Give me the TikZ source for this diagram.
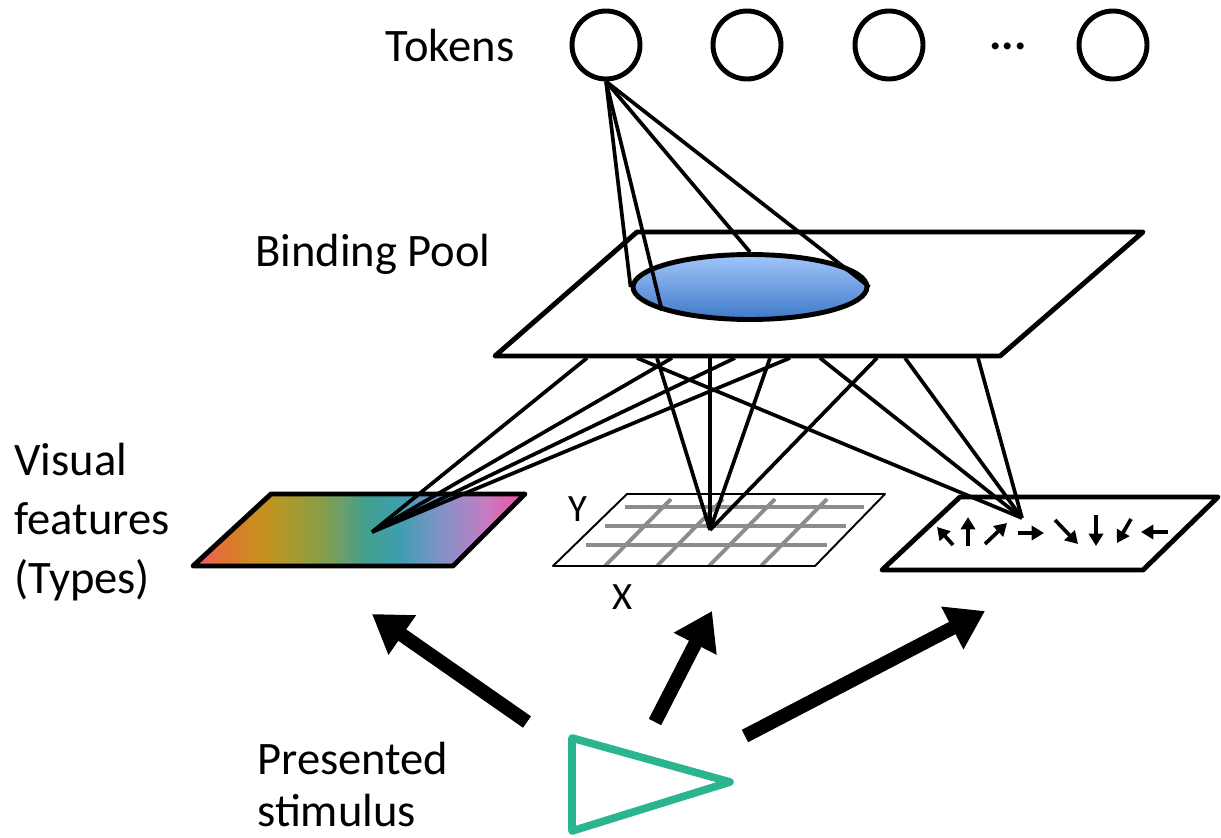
\documentclass[tikz,border=0pt]{standalone}
\usepackage{fontspec}
\setmainfont{Carlito}
\usetikzlibrary{arrows.meta,shapes.geometric}
\definecolor{stimgreen}{HTML}{2BB58F}
\definecolor{ellTop}{HTML}{A2C6FA}
\definecolor{ellBot}{HTML}{3E79C9}
\definecolor{gridgray}{HTML}{8C8C8C}
\definecolor{rc0}{HTML}{F2596A}
\definecolor{rc1}{HTML}{E0752F}
\definecolor{rc2}{HTML}{C8901E}
\definecolor{rc3}{HTML}{A89A2E}
\definecolor{rc4}{HTML}{849E50}
\definecolor{rc5}{HTML}{42A08E}
\definecolor{rc6}{HTML}{3E9EB0}
\definecolor{rc7}{HTML}{7E93C8}
\definecolor{rc8}{HTML}{C47CC2}
\definecolor{rc9}{HTML}{F0509E}
\pgfdeclarehorizontalshading{rainbow}{100bp}{color(0bp)=(rc0); color(25bp)=(rc0); color(30bp)=(rc1); color(35bp)=(rc2); color(40bp)=(rc3); color(45bp)=(rc4); color(51bp)=(rc5); color(56bp)=(rc6); color(62bp)=(rc7); color(69bp)=(rc8); color(75bp)=(rc9); color(100bp)=(rc9)}
\begin{document}
\begin{tikzpicture}[x=0.02cm,y=-0.02cm,
  txt/.style={font=\fontsize{26.5}{33}\selectfont, inner sep=0pt},
  token/.style={draw, circle, line width=2.8pt, minimum size=1.36cm, inner sep=0pt},
  thickedge/.style={draw, line width=2.8pt, line join=round},
  conn/.style={line width=2.1pt},
  smallarrow/.style={line width=2.1pt, -{Triangle[length=7pt,width=8pt]}},
  bigarrow/.style={line width=7.9pt, -{Triangle[length=21pt,width=26pt]}},
  gridline/.style={gridgray, line width=2.2pt}
]
\useasboundingbox (0,0) rectangle (1221,838);

% texts
\node[txt] (tokLabel) at (450,46) {Tokens};
\node[txt] (poolLabel) at (373,254) {Binding Pool};
\node[txt, anchor=west, align=left, font=\fontsize{26.5}{33.5}\selectfont] (visLabel) at (14,522) {Visual\\features\\(Types)};
\node[txt, anchor=north west, align=left, font=\fontsize{26.5}{29.5}\selectfont] (stimLabel) at (257,742) {Presented\\stimulus};

% tokens
\node[token] (t1) at (606,45) {};
\node[token] (t2) at (747,45) {};
\node[token] (t3) at (889,45) {};
\node[txt, font=\bfseries\fontsize{26.5}{33}\selectfont] (dots) at (1008,46) {...};
\node[token] (t4) at (1113,45) {};

% binding pool
\coordinate (pTL) at (637,232);
\coordinate (pTR) at (1143,232);
\coordinate (pBR) at (1000,356);
\coordinate (pBL) at (495,356);
\path[thickedge, fill=white] (pTL) -- (pTR) -- (pBR) -- (pBL) -- cycle;

% ellipse
\node[draw, ellipse, line width=2.8pt, minimum width=4.68cm, minimum height=1.3cm,
      top color=ellTop, bottom color=ellBot, inner sep=0pt] (ell) at (750,287) {};

% cone lines
\draw[conn] (t1.south) -- (ell.west);
\draw[conn] (t1.south) -- (ell.195);
\draw[conn] (t1.south) -- (ell.north);
\draw[conn] (t1.south) -- (ell.east);

% left map (colour)
\coordinate (lTL) at (271,494);
\coordinate (lTR) at (525,494);
\coordinate (lBR) at (453,566);
\coordinate (lBL) at (193,566);
\path[shading=rainbow, shading angle=0] (lTL) -- (lTR) -- (lBR) -- (lBL) -- cycle;
\path[thickedge] (lTL) -- (lTR) -- (lBR) -- (lBL) -- cycle;

% grid map
\coordinate (gTL) at (627,494);
\coordinate (gTR) at (885,494);
\coordinate (gBR) at (815,566);
\coordinate (gBL) at (553,566);
\foreach \yy in {507,526,545} {
  \draw[gridline] ({553+74*(566-\yy)/72+11},\yy) -- ({815+70*(566-\yy)/72-8},\yy);
}
\foreach \xx in {605,657,709,761} {
  \draw[gridline] (\xx,566) -- (\xx+66,499);
}
\draw[line width=1.1pt, line join=round] (gTL) -- (gTR) -- (gBR) -- (gBL) -- cycle;
\node[txt] (yLabel) at (578,509) {\fontsize{22}{26}\selectfont Y};
\node[txt] (xLabel) at (623,597) {\fontsize{22}{26}\selectfont X};

% motion map
\coordinate (mTL) at (960,497);
\coordinate (mTR) at (1218,497);
\coordinate (mBR) at (1143,570);
\coordinate (mBL) at (882,570);
\path[thickedge, fill=white] (mTL) -- (mTR) -- (mBR) -- (mBL) -- cycle;
\draw[smallarrow] (953,545) -- (937,527);
\draw[smallarrow] (968,546) -- (968,517);
\draw[smallarrow] (985,544) -- (1007,523);
\draw[smallarrow] (1018,533) -- (1044,533);
\draw[smallarrow] (1055,520) -- (1078,544);
\draw[smallarrow] (1096,515) -- (1096,546);
\draw[smallarrow] (1131,519) -- (1117,543);
\draw[smallarrow] (1168,532) -- (1141,532);

% convergence points
\coordinate (L) at (372,532);
\coordinate (G) at (710,530);
\coordinate (R) at (1022,518);

% pool bottom attachment points
\coordinate (b1) at (587,358);
\coordinate (b2) at (672,358);
\coordinate (b3) at (735,358);
\coordinate (b4) at (790,358);
\coordinate (b5) at (657,358);
\coordinate (b6) at (710,358);
\coordinate (b7) at (770,358);
\coordinate (b8) at (877,358);
\coordinate (b9) at (637,358);
\coordinate (b10) at (820,358);
\coordinate (b11) at (905,358);
\coordinate (b12) at (978,358);

\foreach \b in {b1,b2,b3,b4} \draw[conn] (\b) -- (L);
\foreach \b in {b5,b6,b7,b8} \draw[conn] (\b) -- (G);
\foreach \b in {b9,b10,b11,b12} \draw[conn] (\b) -- (R);

% stimulus
\coordinate (sA) at (572,738);
\coordinate (sB) at (572,831);
\coordinate (sC) at (730,782);
\draw[stimgreen, line width=4.4pt, line join=round] (sA) -- (sC) -- (sB) -- cycle;

% big arrows
\coordinate (a1s) at (527,722);
\coordinate (a1e) at (372,614);
\coordinate (a2s) at (655,722);
\coordinate (a2e) at (712,611);
\coordinate (a3s) at (745,736);
\coordinate (a3e) at (985,611);
\draw[bigarrow] (a1s) -- (a1e);
\draw[bigarrow] (a2s) -- (a2e);
\draw[bigarrow] (a3s) -- (a3e);
\end{tikzpicture}
\end{document}
